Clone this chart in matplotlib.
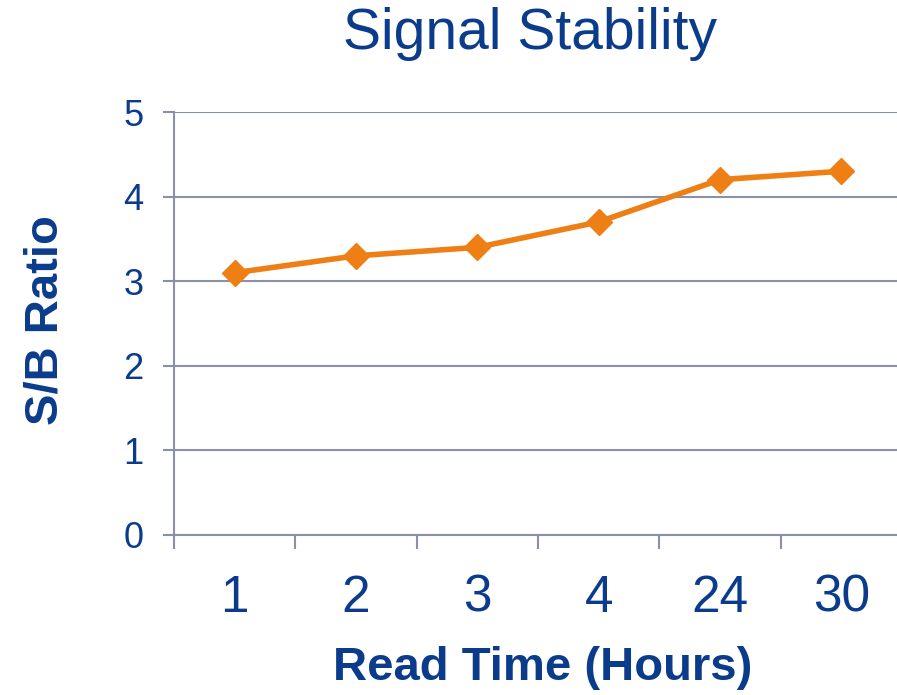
import matplotlib
matplotlib.use("Agg")
import matplotlib.pyplot as plt
import numpy as np

plt.rcParams['font.family'] = ['Liberation Sans', 'DejaVu Sans']

categories = ["1", "2", "3", "4", "24", "30"]
sb_ratio = [3.1, 3.3, 3.4, 3.7, 4.2, 4.3]
y_ticks = [0, 1, 2, 3, 4, 5]

text_color = "#0B3C8C"
line_color = "#EE7F15"
grid_color = "#8A90AA"

W, H = 897, 695
fig = plt.figure(figsize=(W / 100, H / 100), dpi=100)
# plot area runs from x=174px to ~902px (slightly past the right edge), y=112..535px
ax = fig.add_axes([174 / W, (H - 535) / H, 728 / W, (535 - 112) / H])

x = np.arange(len(categories))
ax.plot(x, sb_ratio, color=line_color, lw=4, marker="D", markersize=13,
        markeredgecolor=line_color, markerfacecolor=line_color, zorder=3,
        clip_on=False)

ax.set_xlim(-0.5, len(categories) - 0.5)
ax.set_ylim(0, 5)
ax.set_yticks(y_ticks)
ax.set_yticklabels([str(t) for t in y_ticks])
ax.grid(axis="y", color=grid_color, lw=1.5)
ax.set_axisbelow(True)

# category labels centred, tick marks on category boundaries
ax.set_xticks(x)
ax.set_xticklabels(categories)
ax.tick_params(axis="x", which="major", length=0, pad=28, labelsize=37,
               labelcolor=text_color)
ax.set_xticks(np.arange(len(categories) + 1) - 0.5, minor=True)
ax.tick_params(axis="x", which="minor", length=10, width=1.5, color=grid_color,
               direction="out")
ax.tick_params(axis="y", length=8, width=1.5, color=grid_color, pad=14,
               labelsize=26, labelcolor=text_color)

for side in ["top", "right"]:
    ax.spines[side].set_visible(False)
for side in ["left", "bottom"]:
    ax.spines[side].set_color(grid_color)
    ax.spines[side].set_linewidth(1.5)

fig.text(543 / W, 1 - 668 / H, "Read Time (Hours)", fontsize=34,
         fontweight="bold", color=text_color, ha="center", va="center")
fig.text(45 / W, 1 - 320 / H, "S/B Ratio", fontsize=34, fontweight="bold",
         color=text_color, ha="center", va="center", rotation=90)
fig.text(530 / W, 1 - 34 / H, "Signal Stability", fontsize=41,
         color=text_color, ha="center", va="center")

fig.savefig("out.png", dpi=100)
